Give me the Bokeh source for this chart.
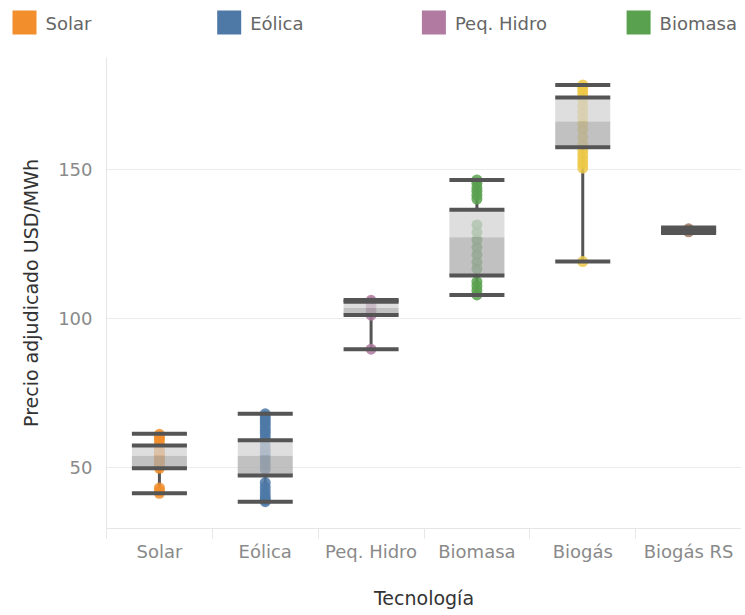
from bokeh.plotting import figure
from bokeh.models import Range1d, FixedTicker
from bokeh.layouts import column
from bokeh.core.properties import value
from bokeh.embed import file_html
from bokeh.resources import INLINE

# ---------------- data ----------------
categories = ["Solar", "Eólica", "Peq. Hidro", "Biomasa", "Biogás", "Biogás RS"]
colors = ["#f28e2b", "#4e79a7", "#b07aa1", "#59a14f", "#edc948", "#9c755f"]
legend_items = ["Solar", "Eólica", "Peq. Hidro", "Biomasa"]

whisker_low = [41.4, 38.6, 89.8, 108.0, 119.2, 128.8]
q1 = [49.8, 47.4, 101.3, 114.5, 157.6, 129.1]
median = [54.0, 54.0, 103.6, 127.4, 166.2, 129.6]
q3 = [57.5, 59.2, 105.7, 136.6, 174.3, 130.3]
whisker_high = [61.4, 68.1, 106.3, 146.6, 178.5, 130.6]

solar_pts = [61.2, 60.4, 59.6, 58.3, 57.0, 56.0, 55.2, 54.5, 54.0, 53.2, 52.5,
             51.5, 50.5, 49.8, 43.2, 42.2, 41.4]
eolica_pts = [68.1, 67.3, 66.4, 65.5, 64.6, 63.5, 62.5, 61.6, 60.5, 59.3, 57.5,
              56.0, 55.0, 54.0, 52.5, 51.0, 49.5, 45.0, 43.5, 42.2, 41.0, 40.0,
              39.2, 38.6]
hidro_pts = [106.2, 105.6, 104.2, 102.5, 101.2, 89.8]
biomasa_pts = [146.6, 145.5, 144.0, 142.8, 141.5, 140.2, 131.5, 129.0, 126.5,
               124.0, 121.5, 119.0, 116.8, 112.5, 111.0, 109.5, 108.0]
biogas_pts = [178.5, 177.6, 176.5, 175.2, 173.5, 171.5, 169.5, 167.5, 165.5,
              163.5, 161.0, 158.5, 156.5, 155.0, 153.5, 152.0, 150.6, 119.2]
biogas_rs_pts = [130.2, 129.2]
points = [solar_pts, eolica_pts, hidro_pts, biomasa_pts, biogas_pts, biogas_rs_pts]

y_ticks = [50, 100, 150]

FONT = "DejaVu Sans"
BOX_W = 0.52
DARK = "#555555"
W = 741
LEG_H = 40

# ---------------- legend strip ----------------
leg = figure(width=W, height=LEG_H, x_range=Range1d(0, W), y_range=Range1d(LEG_H, 0),
             output_backend="svg", toolbar_location=None,
             x_axis_location=None, y_axis_location=None, min_border=0,
             frame_align=False)
leg.outline_line_color = None
leg.xgrid.visible = False
leg.ygrid.visible = False
step = 204.7
sq_x = [24 + i * step for i in range(len(legend_items))]
tx_x = [sx + 21 for sx in sq_x]
leg.scatter(x=sq_x, y=[22] * len(legend_items), marker="square", size=24,
            fill_color=colors[:len(legend_items)], line_color=None)
leg.text(x=tx_x, y=[23] * len(legend_items), text=legend_items,
         text_font=value(FONT), text_font_size="18px", text_color="#666666",
         text_baseline="middle", text_align="left")

# ---------------- main plot ----------------
n = len(categories)
xs = [i + 0.5 for i in range(n)]

p = figure(width=W, height=611 - LEG_H, x_range=Range1d(0, n),
           y_range=Range1d(29.6, 187.7),
           output_backend="svg", toolbar_location=None, frame_align=False,
           min_border_left=106, min_border_right=0, min_border_top=57 - LEG_H,
           min_border_bottom=82)
p.outline_line_color = None
p.background_fill_color = "white"

# axes
p.xaxis.ticker = FixedTicker(ticks=xs, minor_ticks=list(range(n + 1)))
p.xaxis.major_label_overrides = {x: c for x, c in zip(xs, categories)}
p.xaxis.major_tick_line_color = None
p.xaxis.major_tick_out = 0
p.xaxis.major_tick_in = 0
p.xaxis.minor_tick_line_color = "#e6e6e6"
p.xaxis.minor_tick_out = 10
p.xaxis.minor_tick_in = 0
p.xaxis.axis_line_color = "#e6e6e6"
p.xaxis.major_label_text_font = FONT
p.xaxis.major_label_text_font_size = "18px"
p.xaxis.major_label_text_color = "#8a8a8a"
p.xaxis.major_label_standoff = 2
p.xaxis.axis_label = "Tecnología"
p.xaxis.axis_label_text_font = FONT
p.xaxis.axis_label_text_font_size = "19px"
p.xaxis.axis_label_text_font_style = "normal"
p.xaxis.axis_label_text_color = "#333333"
p.xaxis.axis_label_standoff = 22

p.yaxis.ticker = FixedTicker(ticks=y_ticks)
p.yaxis.major_tick_line_color = None
p.yaxis.minor_tick_line_color = None
p.yaxis.major_tick_out = 0
p.yaxis.axis_line_color = "#e6e6e6"
p.yaxis.major_label_text_font = FONT
p.yaxis.major_label_text_font_size = "18px"
p.yaxis.major_label_text_color = "#8a8a8a"
p.yaxis.major_label_standoff = 14
p.yaxis.axis_label = "Precio adjudicado USD/MWh"
p.yaxis.axis_label_text_font = FONT
p.yaxis.axis_label_text_font_size = "19px"
p.yaxis.axis_label_text_font_style = "normal"
p.yaxis.axis_label_text_color = "#333333"
p.yaxis.axis_label_standoff = 13

p.xgrid.grid_line_color = None
p.ygrid.grid_line_color = "#ececec"
p.ygrid.grid_line_width = 1

# whisker stems (outside box)
p.segment(x0=xs, y0=whisker_low, x1=xs, y1=q1, line_width=3, line_color=DARK)
p.segment(x0=xs, y0=q3, x1=xs, y1=whisker_high, line_width=3, line_color=DARK)

# points
for xc, pts, col in zip(xs, points, colors):
    p.scatter(x=[xc] * len(pts), y=pts, size=11, fill_color=col, line_color=None,
              fill_alpha=0.85)

# boxes
p.vbar(x=xs, width=BOX_W, bottom=median, top=q3, fill_color="#d2d2d2",
       fill_alpha=0.74, line_color=None)
p.vbar(x=xs, width=BOX_W, bottom=q1, top=median, fill_color="#ababab",
       fill_alpha=0.74, line_color=None)

# caps / quartile lines
x0s = [x - BOX_W / 2 for x in xs]
x1s = [x + BOX_W / 2 for x in xs]
for arr in (whisker_low, q1, q3, whisker_high):
    p.segment(x0=x0s, y0=arr, x1=x1s, y1=arr, line_width=4, line_color=DARK,
              line_cap="butt")

layout = column(leg, p, spacing=0)
open("out.html", "w").write(file_html(layout, INLINE))
